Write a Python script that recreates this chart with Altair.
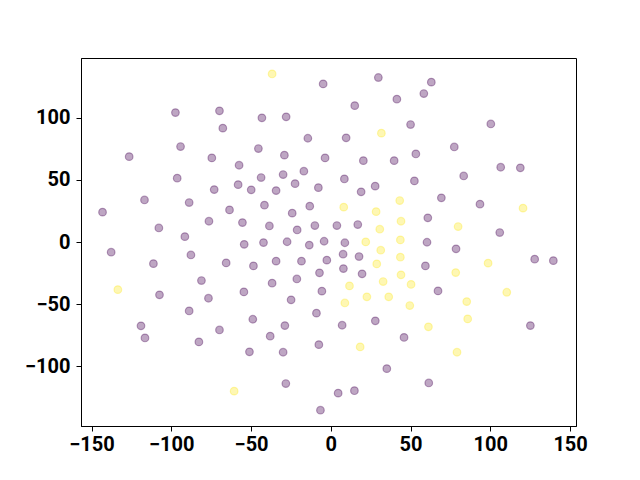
import altair as alt
import pandas as pd

purple_x = [-97.4, -69.8, -67.7, -94.2, -126.4, -74.6, -57.5, -96.3, -58.1, -73.1,
            -49.9, -116.8, -88.8, -143.1, -63.5, -76.4, -55.4, -107.8, -91.5, -54.3,
            -137.7, -111.2, -87.7, -65.6, -48.5, -81.1, -107.4, -76.7, -54.5, -88.8,
            -48.9, -119.0, -69.8, -116.5, -82.7, -51.0,
            -4.8, 29.8, 41.4, 15.0, 50.0, -43.2, -28.0, -14.4, 9.6, -45.4,
            -29.1, -3.6, 20.4, 39.7, -43.7, -29.9, -16.9, -34.3, -22.4, -7.8,
            8.5, 19.0, 27.8, -41.6, -24.2, -13.2, -38.5, -21.1, -10.0, 3.8,
            16.9, -42.2, -27.4, -13.5, -4.2, 8.8,
            63.0, 58.3, 100.3, 53.3, 77.4, 106.5, 118.8, 83.3, 52.4, 69.3,
            93.5, 60.8, 105.9, 60.3, 78.5, 127.8, 139.5, 59.3, 67.2, 125.1,
            61.4, 45.9,
            7.7, 17.7, -34.3, -18.4, -2.5, 7.9, 19.6, -36.8, -21.3, -7.1,
            -24.9, -5.6, -9.0, -28.8, 7.1, 27.9, -38.0, -29.9, -7.5, 35.1,
            -28.2, 4.6, 14.8, -6.5]
purple_y = [104.0, 105.4, 91.5, 76.7, 68.6, 67.6, 61.7, 51.3, 46.1, 42.1,
            41.9, 33.8, 31.7, 24.0, 25.8, 16.7, 15.6, 11.3, 4.3, -1.9,
            -8.2, -17.4, -10.4, -16.8, -19.2, -31.0, -42.5, -45.2, -40.1, -55.4,
            -62.1, -67.4, -70.7, -77.1, -80.3, -88.3,
            127.1, 132.2, 114.8, 109.6, 94.4, 99.8, 100.6, 83.4, 83.7, 75.1,
            69.8, 67.6, 65.4, 65.4, 51.8, 54.2, 56.9, 41.3, 46.9, 43.7,
            50.7, 40.3, 44.9, 29.6, 23.2, 28.8, 12.9, 9.7, 13.2, 13.2,
            14.0, -0.5, 0.2, -2.5, 0.6, -0.6,
            128.5, 119.3, 94.9, 70.8, 76.4, 60.1, 59.6, 53.1, 49.1, 35.5,
            30.4, 19.4, 7.6, -0.2, -5.5, -13.8, -15.0, -19.2, -39.3, -67.2,
            -113.3, -76.7,
            -9.8, -11.7, -15.4, -15.4, -14.6, -21.4, -25.6, -33.1, -29.7, -24.8,
            -46.5, -39.5, -57.2, -67.2, -66.9, -63.4, -75.7, -88.6, -82.5, -101.8,
            -113.8, -121.5, -119.5, -135.2]

yellow_x = [-36.8, 31.7, 43.2, 8.1, 28.4, 44.0, 30.7, 21.9, 43.6, 31.3,
            43.6, 28.8, 32.8, 44.0, 50.3, 11.7, 22.6, 36.3, 8.8, 49.5,
            18.4, 120.5, 79.8, 98.6, 78.3, 110.3, 85.2, 85.8, 61.2, 79.1,
            -133.5, -60.6]
yellow_y = [135.1, 87.5, 33.3, 28.0, 24.4, 16.7, 10.3, 0.1, 1.7, -6.6,
            -12.2, -17.6, -31.8, -26.4, -34.1, -35.3, -44.1, -44.1, -49.0, -51.1,
            -84.3, 27.2, 12.4, -17.0, -24.6, -40.4, -47.9, -61.8, -68.2, -88.6,
            -38.3, -119.9]

x_ticks = [-150, -100, -50, 0, 50, 100, 150]
y_ticks = [-100, -50, 0, 50, 100]

df = pd.DataFrame({
    "x": purple_x + yellow_x,
    "y": purple_y + yellow_y,
    "label": ["0"] * len(purple_x) + ["1"] * len(yellow_x),
})

font = "Roboto"

chart = alt.Chart(df).mark_circle(
    size=58, opacity=1, fillOpacity=0.35, strokeOpacity=0.35, strokeWidth=1.2
).encode(
    x=alt.X("x:Q", scale=alt.Scale(domain=[-156.6, 153.7], nice=False, zero=False),
            axis=alt.Axis(values=x_ticks, title=None, grid=False, tickSize=5,
                          labelPadding=3, labelFontSize=20, labelFont=font,
                          labelFontWeight="bold", labelColor="black",
                          domainColor="black", tickColor="black")),
    y=alt.Y("y:Q", scale=alt.Scale(domain=[-147.9, 147.9], nice=False, zero=False),
            axis=alt.Axis(values=y_ticks, title=None, grid=False, tickSize=5,
                          labelPadding=6, labelFontSize=20, labelFont=font,
                          labelFontWeight="bold", labelColor="black",
                          domainColor="black", tickColor="black")),
    color=alt.Color("label:N", scale=alt.Scale(domain=["0", "1"], range=["#440154", "#fde725"]),
                    legend=None),
    fill=alt.Fill("label:N", scale=alt.Scale(domain=["0", "1"], range=["#440154", "#fde725"]),
                  legend=None),
    stroke=alt.Stroke("label:N", scale=alt.Scale(domain=["0", "1"], range=["#440154", "#fde725"]),
                      legend=None),
).properties(
    width=495, height=368,
    autosize=alt.AutoSizeParams(type="none"),
    padding={"left": 73, "top": 50, "right": 40, "bottom": 40},
).configure_view(stroke="black", strokeWidth=1)

chart.save("out.html", embed_options={"renderer": "svg", "actions": False})
